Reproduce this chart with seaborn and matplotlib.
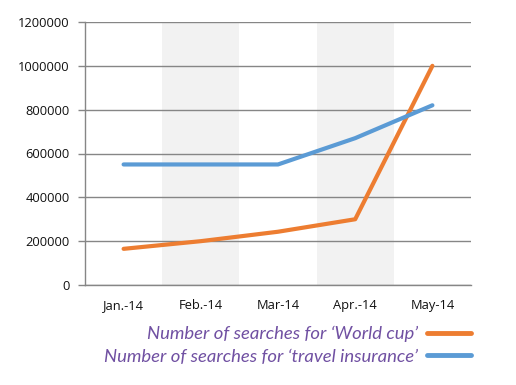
import pandas as pd
import numpy as np
import matplotlib
matplotlib.use('Agg')
import matplotlib.pyplot as plt
import seaborn as sns

months = ['Jan.-14', 'Feb.-14', 'Mar-14', 'Apr.-14', 'May-14']
world_cup = [165000, 200000, 243000, 300000, 1000000]
travel_insurance = [550000, 550000, 550000, 670000, 820000]
series_names = ["Number of searches for \u2018World cup\u2019",
                "Number of searches for \u2018travel insurance\u2019"]
yticks = [0, 200000, 400000, 600000, 800000, 1000000, 1200000]

df = pd.DataFrame({
    'month': months * 2,
    'searches': world_cup + travel_insurance,
    'series': [series_names[0]] * 5 + [series_names[1]] * 5,
})

sns.set_style('white')
plt.rcParams['font.family'] = ['Open Sans', 'DejaVu Sans']

fig = plt.figure(figsize=(5.16, 3.85), dpi=100)
ax = fig.add_axes([85/516, 1-285/385, 386/516, 263/385])

# grey bands behind every other month
for x0 in [0.5, 2.5]:
    ax.axvspan(x0, x0 + 1, color='#F2F2F2', zorder=0, lw=0)

sns.lineplot(data=df, x='month', y='searches', hue='series', hue_order=series_names,
             palette=['#ED7D31', '#5B9BD5'], linewidth=3, ax=ax, zorder=3,
             solid_capstyle='round')

ax.set_xlim(-0.5, 4.5)
ax.set_ylim(0, 1200000)
ax.set_yticks(yticks)
ax.set_yticklabels([str(v) for v in yticks], fontsize=9.3, color='#111111')
ax.set_xticks(range(5))
ax.set_xticklabels(months, fontsize=9.3, color='#111111')
ax.set_xticks(np.arange(-0.5, 5, 1), minor=True)
ax.tick_params(axis='x', which='major', length=0, pad=10)
ax.tick_params(axis='x', which='minor', length=5, color='#868686', width=1, direction='out')
ax.tick_params(axis='y', length=5, color='#868686', width=1, direction='out', left=True, pad=6)
ax.grid(axis='y', color='#868686', lw=1, zorder=1)
ax.grid(axis='x', visible=False)
ax.set_axisbelow(True)
ax.set_xlabel('')
ax.set_ylabel('')
for s in ['top', 'right']:
    ax.spines[s].set_visible(False)
for s in ['left', 'bottom']:
    ax.spines[s].set_color('#868686')
    ax.spines[s].set_linewidth(1)

leg = ax.legend(loc='upper right', bbox_to_anchor=(1.0, -0.155), frameon=False,
                markerfirst=False, handlelength=2.4, handletextpad=0.45,
                borderpad=0, borderaxespad=0, labelspacing=0.35,
                prop={'family': 'Lato', 'style': 'italic', 'size': 13.3},
                labelcolor='#7050A2')
for line in leg.get_lines():
    line.set_linewidth(3.5)

fig.savefig('out.png', dpi=100)
